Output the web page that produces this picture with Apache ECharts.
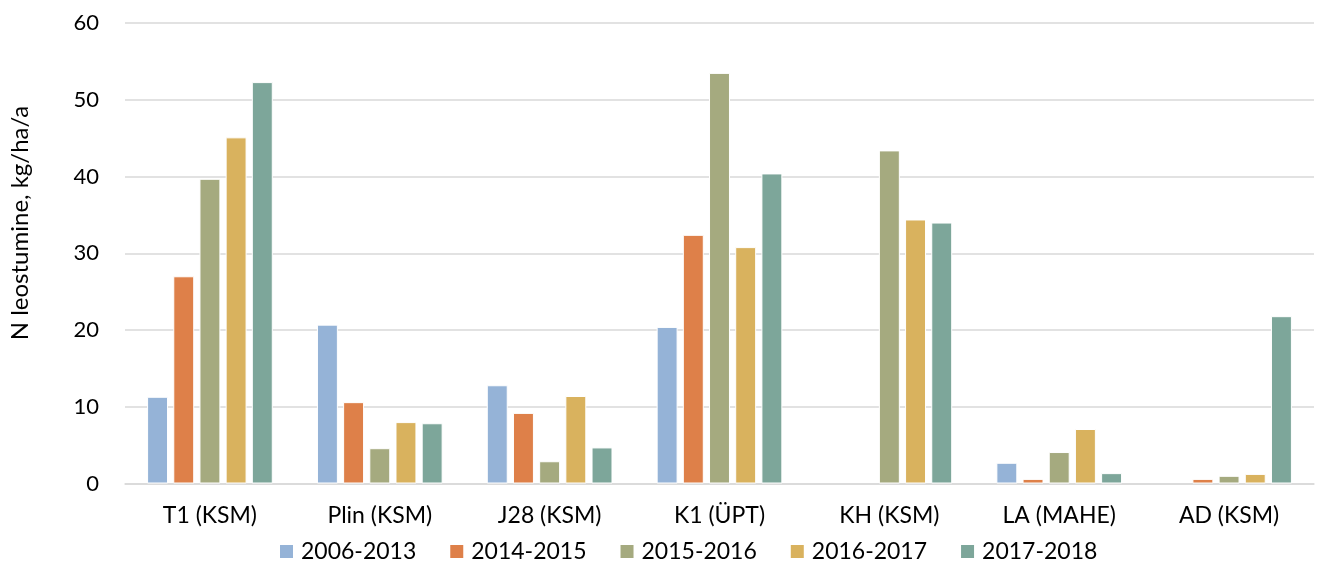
<!DOCTYPE html>
<html>
<head>
<meta charset="utf-8">
<script src="https://cdn.jsdelivr.net/npm/echarts@6/dist/echarts.min.js"></script>
<style>
  html, body { margin: 0; padding: 0; background: #ffffff; }
  #chart { width: 1317px; height: 564px; }
</style>
</head>
<body>
<div id="chart"></div>
<script>
// Sites and measurement periods
const categories = ['T1 (KSM)', 'Plin (KSM)', 'J28 (KSM)', 'K1 (ÜPT)', 'KH (KSM)', 'LA (MAHE)', 'AD (KSM)'];
const periods = ['2006-2013', '2014-2015', '2015-2016', '2016-2017', '2017-2018'];

// N leaching, kg/ha/a, per site for each period (null = no data)
const v2006_2013 = [11.3, 20.7, 12.8, 20.4, null, 2.7, null];
const v2014_2015 = [27.0, 10.6, 9.2, 32.4, null, 0.6, 0.6];
const v2015_2016 = [39.7, 4.6, 2.9, 53.5, 43.4, 4.1, 1.0];
const v2016_2017 = [45.1, 8.0, 11.4, 30.8, 34.4, 7.1, 1.25];
const v2017_2018 = [52.3, 7.85, 4.7, 40.4, 34.0, 1.35, 21.8];

const yTicks = [0, 10, 20, 30, 40, 50, 60];
const yTitle = 'N leostumine, kg/ha/a';

const seriesValues = [v2006_2013, v2014_2015, v2015_2016, v2016_2017, v2017_2018];
const colors = ['#95B3D7', '#DE8049', '#A5AA7F', '#D9B25E', '#7DA69A'];

const FONT = 'Lato';

const chart = echarts.init(document.getElementById('chart'), null, { renderer: 'canvas' });

chart.setOption({
  animation: false,
  textStyle: { fontFamily: FONT },
  grid: { left: 125, right: 3, top: 23, bottom: 80.5, containLabel: false },
  legend: {
    data: periods,
    top: 538,
    left: 276,
    padding: [2, 2, 2, 2],
    itemWidth: 15,
    itemHeight: 15,
    itemGap: 32,
    icon: 'rect',
    textStyle: { fontFamily: FONT, fontSize: 23, color: '#000000', padding: [0, 0, 0, 2] }
  },
  // rotated axis title
  graphic: [{
    type: 'text',
    x: 20,
    y: 223,
    rotation: Math.PI / 2,
    style: {
      text: yTitle,
      fontFamily: FONT,
      fontSize: 24,
      fill: '#000000',
      align: 'center',
      verticalAlign: 'middle'
    }
  }],
  xAxis: {
    type: 'category',
    data: categories,
    axisLine: { show: true, lineStyle: { color: '#d9d9d9', width: 1.5 } },
    axisTick: { show: false },
    axisLabel: { fontFamily: FONT, fontSize: 23, color: '#000000', margin: 21 }
  },
  yAxis: {
    type: 'value',
    min: yTicks[0],
    max: yTicks[yTicks.length - 1],
    interval: 10,
    axisLine: { show: false },
    axisTick: { show: false },
    axisLabel: { fontFamily: FONT, fontSize: 22, color: '#000000', margin: 26 },
    splitLine: { lineStyle: { color: '#d9d9d9', width: 1.5 } }
  },
  series: periods.map((name, i) => ({
    name: name,
    type: 'bar',
    data: seriesValues[i],
    barGap: '25%',
    barCategoryGap: '26%',
    itemStyle: { color: colors[i], borderColor: '#ffffff', borderWidth: 1 }
  }))
});
</script>
</body>
</html>
